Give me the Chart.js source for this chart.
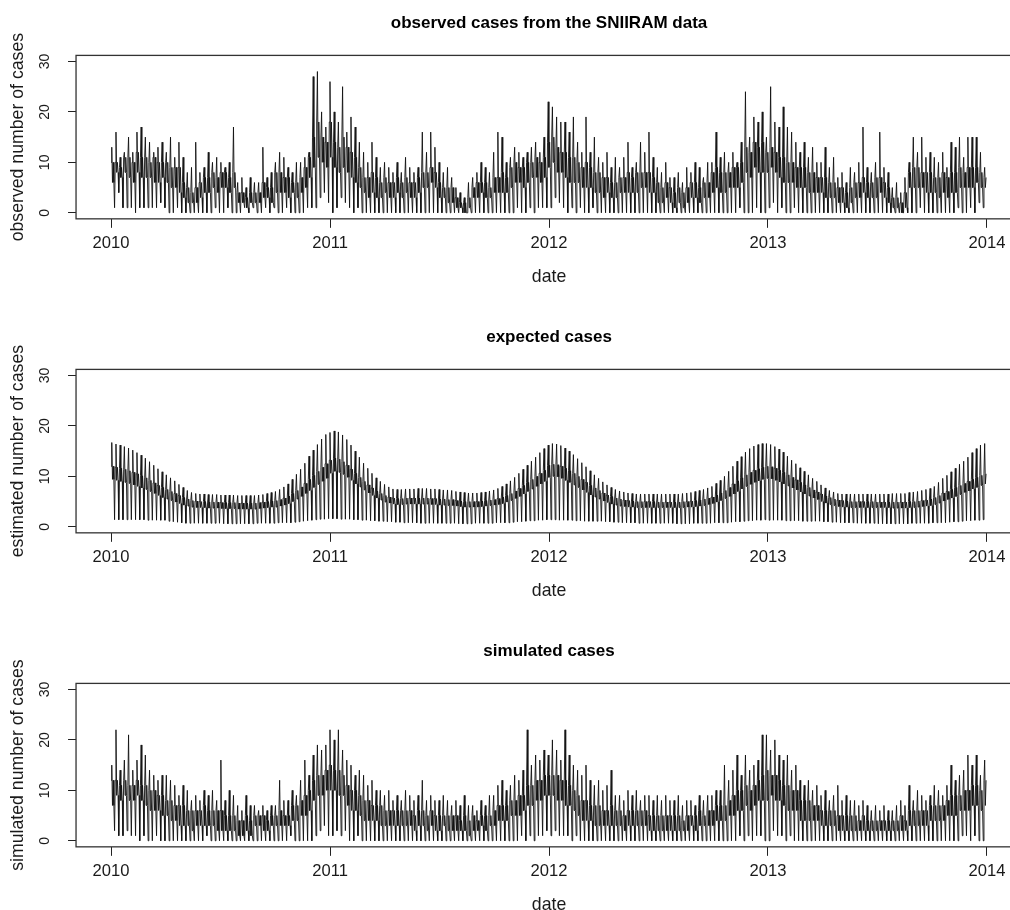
<!DOCTYPE html>
<html>
<head>
<meta charset="utf-8">
<title>observed / expected / simulated cases</title>
<script src="https://cdn.jsdelivr.net/npm/chart.js@4"></script>
<style>
  html, body { margin: 0; padding: 0; background: #fff; overflow: hidden; }
  #wrap { position: relative; width: 1010px; height: 910px; overflow: hidden; background: #fff; }
  #wrap canvas { position: absolute; left: 0; }
</style>
</head>
<body>
<div id="wrap">
  <canvas id="obsChart" width="1022" height="314" style="top:0px"></canvas>
  <canvas id="expChart" width="1022" height="314" style="top:314px"></canvas>
  <canvas id="simChart" width="1022" height="314" style="top:628px"></canvas>
</div>
<script>
// --- axes ---
const yearTicks = [2010, 2011, 2012, 2013, 2014];
const caseTicks = [0, 10, 20, 30];
const START_YEAR = 2010;
const LAST_DAY = 1460;          // 2010-01-01 .. 2013-12-31
const DAYS_PER_YEAR = 365.25;

// Each week is drawn as: band top, weekly peak, band bottom, band top, band bottom, weekend low
const WEEK_SHAPE = ['up', 'hi', 'dn', 'up', 'dn', 'lo'];

// --- observed (SNIIRAM), one value per week ---
// months per row: Jan4 Feb4 Mar5 Apr4 May4 Jun5 Jul4 Aug4 Sep5 Oct4 Nov4 Dec5(6)
const obsHi = [
  13,16,11,12, 15,12,16,17, 15,14,12,13,14, 12,15,11,14, 11,8,9,14, 8,9,12,10,11, 10,9,10,17, 6,7,5,7, 6,6,13,7,8, 10,12,11,9, 8,10,10,11, 12,27,28,20,17,
  26,20,18,25, 16,19,17,14, 12,10,14,11,9, 10,9,8,10, 8,11,9,8, 9,16,12,16,13, 10,8,9,7, 5,4,3,6, 7,8,10,9,8, 12,16,15,10, 11,13,12,11, 12,13,14,12,15,
  22,21,19,18, 18,16,19,14, 12,19,12,15,11, 10,12,9,11, 9,11,14,9, 10,14,12,16,11, 9,8,10,7, 7,8,6,9, 8,10,9,7,10, 10,16,11,12, 10,12,10,14, 24,15,19,18,20,
  15,25,18,17, 21,17,16,14, 12,14,11,13,10, 10,13,9,11, 7,8,6,9, 8,10,17,9,8, 10,16,9,8, 5,6,4,7, 10,15,12,15,11, 12,11,10,12, 9,14,13,15, 11,15,15,15,12,9
];
const obsUp = [
  10,10,9,11, 11,10,12,11, 11,10,11,10,10, 10,9,9,9, 6,5,4,5, 6,7,7,8,7, 8,8,7,8, 4,4,3,4, 4,4,6,5,5, 8,8,7,7, 6,6,7,9, 11,15,18,15,14,
  18,14,13,15, 13,12,11,9, 7,7,8,7,6, 7,6,6,7, 6,7,6,6, 7,8,8,9,8, 6,5,5,5, 3,2,2,3, 5,6,6,6,5, 7,7,8,7, 9,10,9,9, 10,10,11,10,11,
  14,15,13,12, 12,11,11,10, 9,10,9,8,8, 7,7,6,6, 7,7,8,7, 8,8,8,8,7, 6,5,6,5, 4,5,4,5, 6,6,5,6,6, 8,9,8,8, 8,9,9,10, 13,12,14,13,14,
  12,13,12,11, 11,10,10,9, 9,9,8,8,7, 7,7,6,6, 5,5,4,5, 6,6,7,6,6, 7,7,6,5, 3,3,2,4, 8,9,9,8,8, 8,7,7,8, 7,8,8,9, 8,9,9,9,8,7
];
const obsDn = [
  6,8,7,8, 7,6,8,7, 7,7,6,6,7, 6,5,5,4, 3,2,2,2, 3,4,4,5,4, 5,5,4,5, 2,2,1,2, 2,2,3,3,2, 4,4,4,3, 4,3,4,5, 7,9,11,10,9,
  11,9,8,9, 8,7,6,5, 4,3,4,3,3, 4,3,3,4, 3,4,3,3, 4,5,5,6,5, 3,3,2,2, 1,1,0,1, 3,3,4,3,3, 4,4,4,4, 5,6,6,5, 6,7,7,6,7,
  9,10,8,8, 7,6,6,6, 5,5,5,4,4, 3,4,3,3, 4,4,4,4, 4,5,5,4,4, 2,2,3,2, 1,2,1,2, 3,3,2,3,3, 4,5,4,4, 5,5,5,6, 8,7,9,8,8,
  8,9,8,7, 6,6,6,5, 5,5,4,4,4, 4,3,3,3, 2,2,1,2, 3,3,4,3,3, 3,4,3,2, 1,1,0,1, 5,5,5,5,4, 4,4,3,4, 3,4,4,5, 5,5,5,6,5,5
];
const obsLo = [
  1,4,1,1, 1,0,1,1, 1,1,1,2,1, 0,0,1,0, 0,0,0,0, 0,0,0,1,0, 0,1,0,0, 0,1,0,1, 0,0,1,0,1, 0,0,1,0, 0,0,0,1, 1,1,3,4,2,
  0,1,3,2, 1,0,1,0, 0,0,0,0,0, 0,0,0,0, 0,0,0,0, 0,0,0,0,0, 0,0,0,0, 0,0,0,0, 0,0,0,0,0, 0,0,0,0, 0,1,0,0, 1,0,1,1,1,
  1,3,2,1, 0,1,0,1, 0,0,1,0,0, 0,0,0,0, 0,0,0,0, 0,0,0,0,0, 0,0,0,0, 0,0,0,0, 0,0,0,0,0, 0,0,0,0, 0,0,1,0, 0,0,1,0,0,
  1,2,0,1, 0,0,1,0, 0,0,0,0,0, 0,0,0,0, 0,0,0,0, 0,0,0,0,0, 0,0,0,0, 0,0,0,0, 0,0,1,0,0, 0,0,0,0, 0,0,1,0, 0,1,0,2,1,2
];

// --- expected (model), one value per week ---
const expHi = [
  16.7,16.4,16.2,15.9, 15.6,15.2,14.7,14.2, 13.6,12.9,12.2,11.5,10.9, 10.3,9.7,9.1,8.4, 7.8,7.2,6.8,6.6, 6.5,6.5,6.4,6.4,6.4, 6.3,6.3,6.3,6.3, 6.2,6.2,6.2,6.2, 6.2,6.3,6.4,6.6,6.8, 7,7.4,7.9,8.5, 9.4,10.4,11.4,12.6, 14,15.2,16.3,17.4,18.3,
  18.7,19,18.8,18.2, 17.3,16.2,15,13.8, 12.6,11.6,10.6,9.7,9, 8.4,7.9,7.5,7.4, 7.4,7.5,7.5,7.5, 7.6,7.6,7.6,7.5,7.5, 7.4,7.3,7.3,7.2, 7,6.9,6.8,6.7, 6.7,6.7,6.8,6.9,7.1, 7.3,7.6,8,8.5, 9.1,9.8,10.6,11.4, 12.2,13,13.8,14.7,15.5,
  16.2,16.5,16.4,16.1, 15.6,15,14.3,13.5, 12.7,11.9,11.1,10.3,9.6, 8.9,8.3,7.8,7.4, 7.1,6.9,6.7,6.6, 6.5,6.5,6.5,6.5,6.5, 6.5,6.5,6.5,6.5, 6.5,6.5,6.6,6.7, 6.8,7,7.2,7.4,7.7, 8,8.6,9.2,10, 11,12,13,13.9, 14.8,15.5,16,16.3,16.5,
  16.5,16.3,15.9,15.4, 14.8,14,13.2,12.5, 11.7,11,10.3,9.6,9, 8.3,7.7,7.2,6.9, 6.6,6.5,6.5,6.5, 6.5,6.5,6.5,6.5,6.5, 6.5,6.5,6.5,6.5, 6.6,6.6,6.6,6.6, 6.8,6.9,7,7.2,7.4, 7.6,8,8.8,9.6, 10.2,10.9,11.6,12.4, 13,13.8,14.7,15.5,16.2,16.5
];
const expUp = [
  12,11.8,11.6,11.4, 11.1,10.8,10.5,10.1, 9.7,9.2,8.7,8.2,7.8, 7.4,7,6.6,6.2, 5.8,5.5,5.2,5.1, 5,5,4.9,4.9,4.9, 4.8,4.8,4.8,4.8, 4.7,4.7,4.7,4.7, 4.7,4.8,4.9,5,5.1, 5.2,5.4,5.7,6.1, 6.6,7.2,7.9,8.6, 9.4,10.2,11,11.8,12.5,
  13.2,13.6,13.4,12.9, 12.2,11.4,10.6,9.8, 9,8.3,7.7,7.1,6.6, 6.2,5.9,5.7,5.6, 5.6,5.7,5.7,5.7, 5.7,5.7,5.7,5.6,5.6, 5.5,5.5,5.4,5.4, 5.2,5.1,5,5, 5,5,5.1,5.2,5.3, 5.4,5.6,5.9,6.2, 6.6,7.1,7.6,8.2, 8.8,9.4,10,10.6,11.2,
  12.2,12.4,12.3,12, 11.6,11.1,10.6,10, 9.4,8.8,8.2,7.7,7.2, 6.7,6.3,6,5.7, 5.5,5.3,5.2,5.1, 5,5,5,5,5, 4.9,4.9,4.9,4.9, 4.9,4.9,5,5, 5.1,5.2,5.3,5.5,5.7, 5.9,6.3,6.7,7.2, 7.8,8.5,9.1,9.7, 10.3,10.8,11.2,11.5,11.8,
  12,11.9,11.6,11.2, 10.8,10.3,9.8,9.3, 8.8,8.3,7.8,7.3,6.9, 6.5,6.1,5.8,5.5, 5.3,5.2,5.1,5, 5,5,5,5,5, 4.9,4.9,4.9,4.9, 4.9,4.9,4.9,4.9, 5,5,5.1,5.2,5.3, 5.5,5.8,6.2,6.7, 7,7.4,7.8,8.2, 8.6,9,9.4,9.8,10.2,10.5
];
const expDn = [
  9.4,9.2,9,8.8, 8.6,8.3,8,7.7, 7.4,7,6.6,6.2,5.8, 5.5,5.2,4.9,4.6, 4.3,4.1,3.9,3.8, 3.8,3.8,3.7,3.7,3.7, 3.6,3.6,3.6,3.6, 3.5,3.5,3.5,3.5, 3.5,3.6,3.7,3.8,3.9, 3.9,4.1,4.3,4.6, 5,5.5,6,6.6, 7.2,7.8,8.4,9,9.6,
  10.6,11,10.8,10.4, 9.8,9.2,8.5,7.9, 7.3,6.7,6.2,5.7,5.3, 4.9,4.7,4.5,4.4, 4.4,4.5,4.5,4.5, 4.5,4.5,4.5,4.4,4.4, 4.3,4.3,4.2,4.2, 4.1,4,3.9,3.9, 3.9,3.9,4,4.1,4.2, 4.3,4.4,4.6,4.9, 5.2,5.6,6,6.5, 7,7.5,8,8.5,9,
  9.8,10,9.9,9.6, 9.2,8.8,8.3,7.8, 7.3,6.8,6.3,5.9,5.5, 5.1,4.8,4.5,4.3, 4.1,4,3.9,3.9, 3.8,3.8,3.8,3.8,3.8, 3.8,3.8,3.8,3.8, 3.8,3.8,3.8,3.9, 3.9,4,4.1,4.2,4.4, 4.6,4.9,5.2,5.6, 6,6.5,7,7.5, 8,8.4,8.8,9.1,9.4,
  9.6,9.5,9.2,8.9, 8.5,8.1,7.7,7.3, 6.9,6.5,6.1,5.7,5.4, 5,4.7,4.4,4.2, 4,3.9,3.9,3.8, 3.8,3.8,3.8,3.8,3.8, 3.8,3.8,3.8,3.8, 3.7,3.7,3.7,3.7, 3.8,3.8,3.9,4,4.1, 4.2,4.4,4.7,5.1, 5.4,5.7,6,6.4, 6.8,7.1,7.5,7.8,8.2,8.5
];
const expLo = [
  1.4,1.4,1.4,1.4, 1.4,1.4,1.4,1.4, 1.3,1.3,1.3,1.3,1.3, 1.1,1,0.9,0.8, 0.7,0.7,0.7,0.7, 0.7,0.7,0.7,0.7,0.7, 0.6,0.6,0.6,0.6, 0.6,0.6,0.6,0.6, 0.7,0.7,0.7,0.7,0.7, 0.8,0.8,0.8,0.8, 0.9,1,1.1,1.2, 1.3,1.4,1.5,1.5,1.6,
  1.6,1.6,1.5,1.5, 1.5,1.4,1.4,1.3, 1.3,1.2,1.2,1.1,1.1, 1,1,0.9,0.9, 0.8,0.8,0.8,0.8, 0.7,0.7,0.7,0.7,0.7, 0.7,0.7,0.7,0.7, 0.6,0.6,0.6,0.6, 0.7,0.7,0.7,0.7,0.7, 0.8,0.8,0.8,0.8, 0.9,1,1,1.1, 1.2,1.2,1.3,1.3,1.4,
  1.4,1.4,1.3,1.3, 1.3,1.3,1.2,1.2, 1.1,1.1,1.1,1.1,1.1, 1,1,0.9,0.9, 0.8,0.8,0.8,0.8, 0.7,0.7,0.7,0.7,0.7, 0.7,0.7,0.7,0.7, 0.6,0.6,0.6,0.6, 0.7,0.7,0.7,0.7,0.7, 0.8,0.8,0.8,0.8, 0.9,1,1,1.1, 1.2,1.2,1.3,1.3,1.4,
  1.3,1.3,1.3,1.3, 1.2,1.2,1.2,1.2, 1.1,1.1,1.1,1.1,1.1, 1,1,0.9,0.9, 0.8,0.8,0.8,0.8, 0.7,0.7,0.7,0.7,0.7, 0.6,0.6,0.6,0.6, 0.6,0.6,0.6,0.6, 0.7,0.7,0.7,0.7,0.7, 0.8,0.8,0.8,0.8, 0.9,1,1,1.1, 1.2,1.2,1.3,1.3,1.4,1.5
];

// --- simulated, one value per week ---
const simHi = [
  15,22,14,16, 21,14,16,19, 17,14,13,12,13, 13,12,11,9, 11,10,8,9, 8,10,9,10,8, 16,8,10,9, 7,6,9,7, 7,6,7,6,7, 7,12,8,8, 10,9,12,16, 13,17,19,18,19,
  22,20,22,18, 16,15,13,14, 13,11,12,10,10, 9,10,8,9, 8,10,9,8, 9,12,8,9,8, 8,9,8,7, 8,7,9,7, 7,6,8,7,9, 9,11,12,10, 11,13,12,14, 22,15,17,16,18,
  17,20,18,16, 22,17,15,14, 13,15,12,11,12, 10,11,14,9, 9,8,10,9, 10,8,9,9,8, 9,8,9,8, 8,9,7,8, 8,7,9,8,9, 9,10,10,15, 12,14,17,13, 17,14,15,16,21,
  21,18,20,17, 16,17,14,15, 12,11,12,10,11, 9,10,8,9, 11,8,9,8, 8,7,8,7,6, 7,6,7,6, 6,7,8,7, 11,8,10,9,8, 9,11,10,9, 11,15,12,13, 14,17,15,17,13,16
];
const simUp = [
  12,12,11,12, 11,11,12,11, 11,10,10,9,9, 8,8,7,7, 7,6,6,6, 6,7,6,6,6, 6,5,5,5, 4,4,5,4, 5,5,5,4,5, 5,6,5,5, 7,7,8,9, 10,12,13,13,14,
  15,14,14,13, 11,10,10,9, 8,8,7,7,7, 6,6,6,6, 6,6,6,5, 6,6,5,6,5, 5,5,5,5, 5,4,5,4, 5,4,5,5,5, 6,7,7,7, 8,8,9,9, 11,11,12,12,13,
  13,13,13,12, 12,11,10,9, 8,8,7,7,7, 6,6,7,6, 6,5,6,6, 6,6,6,5,5, 5,5,5,5, 5,5,4,5, 5,5,6,5,6, 6,7,7,7, 8,9,10,10, 11,10,11,12,13,
  14,13,13,12, 11,11,10,10, 8,8,8,7,7, 6,6,6,6, 5,5,5,5, 5,4,5,4,4, 4,4,4,4, 4,4,5,4, 6,6,6,6,6, 7,7,7,7, 8,9,9,9, 10,10,11,11,10,12
];
const simDn = [
  7,9,8,9, 8,8,9,8, 7,6,6,6,5, 5,4,4,3, 3,3,2,3, 3,3,3,3,2, 2,2,2,2, 1,1,2,1, 3,3,2,2,3, 3,3,3,3, 4,4,5,5, 6,8,9,9,10,
  10,10,9,9, 7,6,6,5, 4,4,4,4,3, 3,3,3,3, 3,3,3,2, 3,3,2,3,2, 2,3,2,2, 2,2,2,1, 2,2,3,2,3, 3,4,4,4, 5,5,5,6, 7,7,8,8,9,
  9,9,8,8, 7,7,6,5, 4,4,4,3,3, 3,3,3,3, 3,2,3,3, 3,3,3,2,2, 2,2,2,2, 2,2,2,2, 3,2,3,3,3, 3,4,4,4, 5,5,6,6, 7,6,7,8,8,
  8,9,8,8, 7,6,6,6, 4,4,4,4,4, 3,3,3,3, 2,2,2,2, 2,2,2,2,2, 2,2,2,2, 2,2,2,2, 3,3,3,3,3, 4,4,4,4, 5,5,5,6, 6,6,7,7,6,7
];
const simLo = [
  2,1,1,2, 1,1,0,1, 0,0,1,0,0, 0,0,0,0, 0,0,0,0, 0,1,0,0,0, 0,0,0,0, 0,0,0,0, 0,0,0,0,0, 0,0,0,1, 0,0,0,0, 0,1,2,3,1,
  1,2,1,2, 0,0,1,0, 0,0,0,0,0, 0,0,0,0, 0,0,0,0, 0,0,0,0,0, 0,0,0,0, 0,0,0,0, 0,0,0,0,0, 0,0,0,0, 0,0,1,0, 1,0,1,1,2,
  1,2,1,1, 1,0,1,0, 0,0,0,0,0, 0,0,0,0, 0,0,0,0, 0,0,0,0,0, 0,0,0,0, 0,0,0,0, 0,0,0,0,0, 0,0,0,0, 0,0,1,0, 1,0,1,1,0,
  0,2,1,1, 0,1,0,0, 0,0,0,0,0, 0,0,0,0, 0,0,0,0, 0,0,0,0,0, 0,0,0,0, 0,0,0,0, 0,0,0,0,0, 0,0,0,0, 0,0,0,1, 1,0,1,0,0,1
];

// --- helpers ---
const FONT = "'Liberation Sans', Arial, Helvetica, sans-serif";
const TEXT = '#1a1a1a';

// turns the weekly arrays into points on a decimal-year x axis
function buildSeries(s) {
  const pts = [];
  for (let w = 0; w < s.hi.length; w++) {
    WEEK_SHAPE.forEach((key, k) => {
      const day = w * 7 + k * 7 / WEEK_SHAPE.length;
      if (day > LAST_DAY) return;
      pts.push({ x: START_YEAR + day / DAYS_PER_YEAR, y: s[key][w] });
    });
  }
  return pts;
}

// R-style box round the plot region
const boxPlugin = {
  id: 'rbox',
  afterDraw(chart) {
    const { ctx, chartArea: a } = chart;
    ctx.save();
    ctx.strokeStyle = '#333';
    ctx.lineWidth = 1.3;
    ctx.strokeRect(a.left, a.top, a.right - a.left, a.bottom - a.top);
    ctx.restore();
  }
};

function makePanel(canvasId, title, yLabel, series) {
  const ctx = document.getElementById(canvasId);
  if (!ctx) return;

  new Chart(ctx, {
    type: 'line',
    data: {
      datasets: [{
        data: buildSeries(series),
        borderColor: '#111',
        borderWidth: 0.9,
        pointRadius: 0,
        tension: 0,
        fill: false
      }]
    },
    options: {
      responsive: false,
      animation: false,
      events: [],
      layout: { padding: { left: 0, right: 0, top: 0, bottom: 26 } },
      plugins: {
        legend: { display: false },
        tooltip: { enabled: false },
        title: {
          display: true,
          text: title,
          fullSize: false,
          color: '#000',
          font: { family: FONT, size: 17, weight: 'bold' },
          padding: { top: 13, bottom: 22 }
        }
      },
      scales: {
        x: {
          type: 'linear',
          min: 2009.84,
          max: 2014.16,
          afterBuildTicks: s => { s.ticks = yearTicks.map(v => ({ value: v })); },
          ticks: {
            callback: v => String(v),
            color: TEXT,
            font: { family: FONT, size: 16.6 },
            padding: 6,
            maxRotation: 0
          },
          grid: { drawOnChartArea: false, drawTicks: true, tickLength: 9, color: '#222' },
          border: { display: false },
          title: {
            display: true,
            text: 'date',
            color: TEXT,
            font: { family: FONT, size: 17.7 },
            padding: { top: 7, bottom: 0 }
          }
        },
        y: {
          min: -1.2,
          max: 31.2,
          afterBuildTicks: s => { s.ticks = caseTicks.map(v => ({ value: v })); },
          ticks: {
            color: TEXT,
            font: { family: FONT, size: 14 },
            padding: 15,
            minRotation: 90,
            maxRotation: 90,
            crossAlign: 'center'
          },
          grid: { drawOnChartArea: false, drawTicks: true, tickLength: 8, color: '#222' },
          border: { display: false },
          title: {
            display: true,
            text: yLabel,
            color: TEXT,
            font: { family: FONT, size: 17.7 },
            padding: { top: 7, bottom: -7 }
          }
        }
      }
    },
    plugins: [boxPlugin]
  });
}

makePanel('obsChart', 'observed cases from the SNIIRAM data', 'observed number of cases',
  { hi: obsHi, up: obsUp, dn: obsDn, lo: obsLo });
makePanel('expChart', 'expected cases', 'estimated number of cases',
  { hi: expHi, up: expUp, dn: expDn, lo: expLo });
makePanel('simChart', 'simulated cases', 'simulated number of cases',
  { hi: simHi, up: simUp, dn: simDn, lo: simLo });
</script>
</body>
</html>
